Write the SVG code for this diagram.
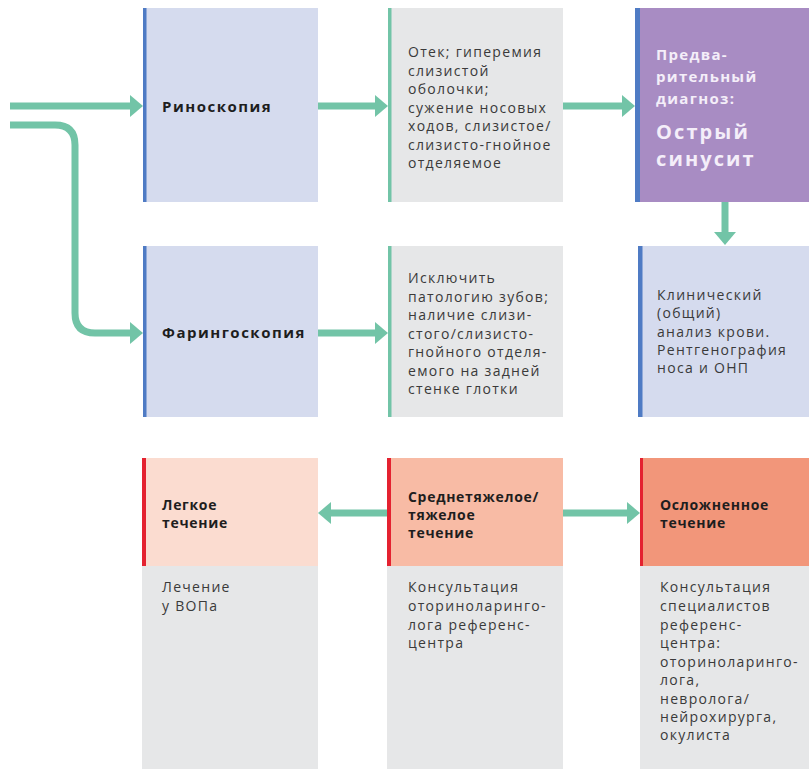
<svg xmlns="http://www.w3.org/2000/svg" width="809" height="769" viewBox="0 0 809 769">
<defs>
<style>
.t{font-family:"Open Sans","Liberation Sans",sans-serif;font-size:14px;letter-spacing:1.3px;fill:#3a3a3a}
.b{font-family:"Open Sans","Liberation Sans",sans-serif;font-size:15px;letter-spacing:1.5px;font-weight:bold;fill:#1e1e1e}
.h{font-family:"Open Sans","Liberation Sans",sans-serif;font-size:14px;letter-spacing:0.7px;font-weight:bold;fill:#1e1e1e}
.w{font-family:"Open Sans","Liberation Sans",sans-serif;font-weight:bold;fill:#f4eef9}
.con{fill:none;stroke:#72c4a7;stroke-width:7}
.ah{fill:#72c4a7}
.blue{fill:#d5dbee}
.gray{fill:#e6e7e8}
.bbar{fill:#4f7bc4}
.gbar{fill:#72c4a7}
.rbar{fill:#e42230}
</style>
</defs>
<rect width="809" height="769" fill="#ffffff"/>
<g id="connectors">
<path class="con" d="M10,106 H132"/>
<polygon class="ah" points="130,95 143,106 130,117"/>
<path class="con" d="M10,125 H55 Q75,125 75,145 V313 Q75,333 95,333 H132"/>
<polygon class="ah" points="130,322 143,333 130,344"/>
<path class="con" d="M318,106 H377"/>
<polygon class="ah" points="375,95 388,106 375,117"/>
<path class="con" d="M563,106 H624"/>
<polygon class="ah" points="622,95 635,106 622,117"/>
<path class="con" d="M725,202 V234"/>
<polygon class="ah" points="714,232 725,245 736,232"/>
<path class="con" d="M318,333 H377"/>
<polygon class="ah" points="375,322 388,333 375,344"/>
<path class="con" d="M387,513 H329"/>
<polygon class="ah" points="331,502 318,513 331,524"/>
<path class="con" d="M563,513 H629"/>
<polygon class="ah" points="627,502 640,513 627,524"/>
</g>
<g id="rinoskopia">
<rect class="blue" x="143" y="8" width="175" height="194"/>
<rect class="bbar" x="143" y="8" width="3.5" height="194"/>
<text class="b" x="162" y="112">Риноскопия</text>
</g>
<g id="rino-findings">
<rect class="gray" x="388" y="8" width="175" height="194"/>
<rect class="gbar" x="388" y="8" width="3.5" height="194"/>
<text class="t"><tspan x="408" y="57">Отек; гиперемия</tspan><tspan x="408" y="75.5">слизистой</tspan><tspan x="408" y="94">оболочки;</tspan><tspan x="408" y="112.5">сужение носовых</tspan><tspan x="408" y="131">ходов, слизистое/</tspan><tspan x="408" y="149.5">слизисто-гнойное</tspan><tspan x="408" y="168">отделяемое</tspan></text>
</g>
<g id="diagnosis">
<rect x="635" y="8" width="174" height="194" fill="#a88cc3"/>
<rect class="bbar" x="635" y="8" width="5" height="194"/>
<text class="w" font-size="15" letter-spacing="1.3"><tspan x="656" y="60">Предва-</tspan><tspan x="656" y="82">рительный</tspan><tspan x="656" y="104">диагноз:</tspan></text>
<text class="w" font-size="20" letter-spacing="2.1"><tspan x="656" y="139">Острый</tspan><tspan x="656" y="166">синусит</tspan></text>
</g>
<g id="faringoskopia">
<rect class="blue" x="143" y="246" width="175" height="171"/>
<rect class="bbar" x="143" y="246" width="3.5" height="171"/>
<text class="b" x="162" y="338">Фарингоскопия</text>
</g>
<g id="faring-findings">
<rect class="gray" x="388" y="246" width="175" height="171"/>
<rect class="gbar" x="388" y="246" width="3.5" height="171"/>
<text class="t"><tspan x="408" y="283">Исключить</tspan><tspan x="408" y="301.5">патологию зубов;</tspan><tspan x="408" y="320">наличие слизи-</tspan><tspan x="408" y="338.5">стого/слизисто-</tspan><tspan x="408" y="357">гнойного отделя-</tspan><tspan x="408" y="375.5">емого на задней</tspan><tspan x="408" y="394">стенке глотки</tspan></text>
</g>
<g id="analysis">
<rect class="blue" x="638" y="246" width="171" height="171"/>
<rect class="bbar" x="638" y="246" width="4.5" height="171"/>
<text class="t"><tspan x="657" y="300">Клинический</tspan><tspan x="657" y="318">(общий)</tspan><tspan x="657" y="337">анализ крови.</tspan><tspan x="657" y="355">Рентгенография</tspan><tspan x="657" y="373">носа и ОНП</tspan></text>
</g>
<g id="mild">
<rect class="gray" x="142" y="566" width="176" height="203"/>
<rect x="142" y="458" width="176" height="108" fill="#fbdcd0"/>
<rect class="rbar" x="142" y="458" width="4" height="108"/>
<text class="h"><tspan x="162" y="510">Легкое</tspan><tspan x="162" y="528">течение</tspan></text>
<text class="t"><tspan x="162" y="592">Лечение</tspan><tspan x="162" y="611">у ВОПа</tspan></text>
</g>
<g id="moderate">
<rect class="gray" x="387" y="566" width="176" height="203"/>
<rect x="387" y="458" width="176" height="108" fill="#f8bba5"/>
<rect class="rbar" x="387" y="458" width="4" height="108"/>
<text class="h"><tspan x="408" y="502">Среднетяжелое/</tspan><tspan x="408" y="520">тяжелое</tspan><tspan x="408" y="538">течение</tspan></text>
<text class="t"><tspan x="408" y="592">Консультация</tspan><tspan x="408" y="611">оториноларинго-</tspan><tspan x="408" y="629.5">лога референс-</tspan><tspan x="408" y="648">центра</tspan></text>
</g>
<g id="complicated">
<rect class="gray" x="640" y="566" width="169" height="203"/>
<rect x="640" y="458" width="169" height="108" fill="#f2967a"/>
<rect class="rbar" x="640" y="458" width="3" height="108"/>
<text class="h"><tspan x="660" y="510">Осложненное</tspan><tspan x="660" y="528">течение</tspan></text>
<text class="t"><tspan x="660" y="592">Консультация</tspan><tspan x="660" y="611">специалистов</tspan><tspan x="660" y="629.5">референс-</tspan><tspan x="660" y="648">центра:</tspan><tspan x="660" y="666.5">оториноларинго-</tspan><tspan x="660" y="685">лога,</tspan><tspan x="660" y="703.5">невролога/</tspan><tspan x="660" y="722">нейрохирурга,</tspan><tspan x="660" y="740">окулиста</tspan></text>
</g>
</svg>
